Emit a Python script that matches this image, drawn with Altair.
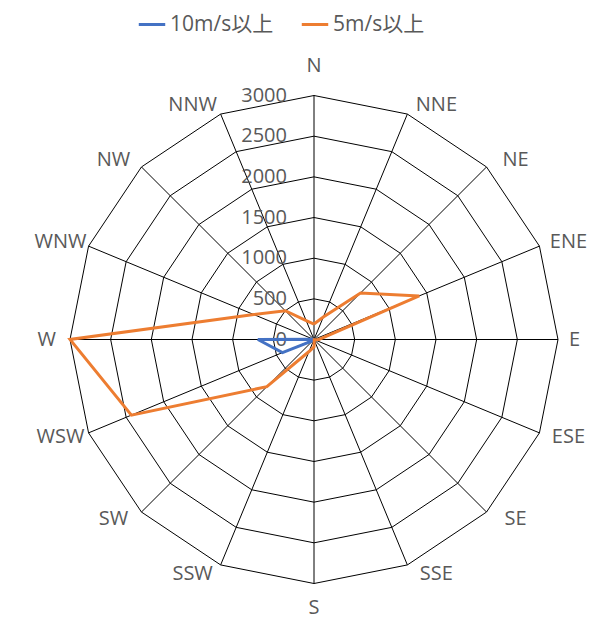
import math
import altair as alt
import pandas as pd

# 16 compass directions, clockwise from north
directions = ["N", "NNE", "NE", "ENE", "E", "ESE", "SE", "SSE",
              "S", "SSW", "SW", "WSW", "W", "WNW", "NW", "NNW"]

# hours / counts per direction
over_10 = [10, 0, 0, 5, 0, 0, 0, 0, 0, 5, 20, 420, 690, 10, 0, 0]
over_5 = [190, 300, 810, 1400, 60, 10, 5, 10, 90, 160, 820, 2430, 3000, 800, 500, 250]

series_names = ["10m/s以上", "5m/s以上"]
series_colors = ["#4472C4", "#ED7D31"]

ring_levels = [500, 1000, 1500, 2000, 2500, 3000]
tick_values = [0, 500, 1000, 1500, 2000, 2500, 3000]

MAX_V = 3000
PLOT = 488                      # plot side in px
PX = 2 * MAX_V / PLOT           # data units per pixel
FONT = "Open Sans, Noto Sans CJK JP, sans-serif"
TEXT_COLOR = "#595959"


def polar(v, i):
    a = math.radians(i * 22.5)
    return v * math.sin(a), v * math.cos(a)


n = len(directions)

# series polygons (closed)
rows = []
for name, vals in zip(series_names, [over_10, over_5]):
    for k in range(n + 1):
        i = k % n
        x, y = polar(vals[i], i)
        rows.append({"series": name, "order": k, "x": x, "y": y})
series_df = pd.DataFrame(rows)

# concentric 16-gon grid rings
ring_rows = []
for lv in ring_levels:
    for k in range(n + 1):
        x, y = polar(lv, k % n)
        ring_rows.append({"level": lv, "order": k, "x": x, "y": y})
ring_df = pd.DataFrame(ring_rows)

# spokes
spoke_df = pd.DataFrame(
    [{"dir": d, "x": polar(MAX_V, i)[0], "y": polar(MAX_V, i)[1]} for i, d in enumerate(directions)]
)

# direction labels: anchored just outside each outer vertex
center_rows, side_rows = [], []
for i, d in enumerate(directions):
    vx, vy = polar(MAX_V, i)
    s = math.sin(math.radians(i * 22.5))
    c = math.cos(math.radians(i * 22.5))
    if abs(s) < 1e-6:           # N / S
        oy = 29.5 if c > 0 else -24.5
        center_rows.append({"dir": d, "x": vx, "y": vy + oy * PX})
    elif abs(c) < 1e-6:         # E / W
        side_rows.append({"dir": d, "x": vx, "y": vy, "side": "E" if s > 0 else "W"})
    else:
        ox = 29 if s > 0 else -28
        center_rows.append({"dir": d, "x": vx + ox * PX, "y": vy + c * 10 * PX})
center_df = pd.DataFrame(center_rows)
side_df = pd.DataFrame(side_rows)

tick_df = pd.DataFrame({"value": tick_values, "label": [str(v) for v in tick_values], "x": 0})

xs = alt.Scale(domain=[-MAX_V, MAX_V], nice=False, zero=False)
ys = alt.Scale(domain=[-MAX_V, MAX_V], nice=False, zero=False)
X = lambda f: alt.X(f, type="quantitative", scale=xs, axis=None)
Y = lambda f: alt.Y(f, type="quantitative", scale=ys, axis=None)

rings = alt.Chart(ring_df).mark_line(color="#000000", strokeWidth=1).encode(
    x=X("x"), y=Y("y"), detail="level:N", order="order:Q"
)

spokes = alt.Chart(spoke_df).mark_rule(color="#000000", strokeWidth=1).encode(
    x=X("x"), y=Y("y"), x2=alt.datum(0), y2=alt.datum(0)
)

ticks = alt.Chart(tick_df).mark_text(
    align="right", baseline="middle", dx=-27, fontSize=20, font=FONT, color=TEXT_COLOR
).encode(x=X("x"), y=Y("value"), text="label:N")

text_style = dict(baseline="middle", fontSize=20, font=FONT, color=TEXT_COLOR)

dir_center = alt.Chart(center_df).mark_text(align="center", **text_style).encode(
    x=X("x"), y=Y("y"), text="dir:N"
)
dir_east = alt.Chart(side_df).transform_filter(alt.datum.side == "E").mark_text(
    align="left", dx=11, **text_style
).encode(x=X("x"), y=Y("y"), text="dir:N")
dir_west = alt.Chart(side_df).transform_filter(alt.datum.side == "W").mark_text(
    align="right", dx=-14, **text_style
).encode(x=X("x"), y=Y("y"), text="dir:N")

lines = alt.Chart(series_df).mark_line(strokeWidth=3, strokeJoin="miter").encode(
    x=X("x"),
    y=Y("y"),
    order="order:Q",
    color=alt.Color(
        "series:N",
        scale=alt.Scale(domain=series_names, range=series_colors),
        legend=alt.Legend(
            title=None,
            orient="none",
            direction="horizontal",
            legendX=67,
            legendY=-86,
            padding=0,
            symbolType="stroke",
            symbolSize=700,
            symbolStrokeWidth=3,
            labelFontSize=21,
            labelFont=FONT,
            labelColor=TEXT_COLOR,
            labelOffset=3,
            columnPadding=21,
        ),
    ),
)

chart = (
    alt.layer(rings, spokes, ticks, dir_center, dir_east, dir_west, lines)
    .properties(
        width=PLOT,
        height=PLOT,
        background="white",
        autosize=alt.AutoSizeParams(type="none"),
        padding={"left": 70, "top": 95.5, "right": 33, "bottom": 35.5},
    )
    .configure_view(strokeWidth=0, stroke="transparent")
)

chart.save("out.html", embed_options={"renderer": "svg", "actions": False})
